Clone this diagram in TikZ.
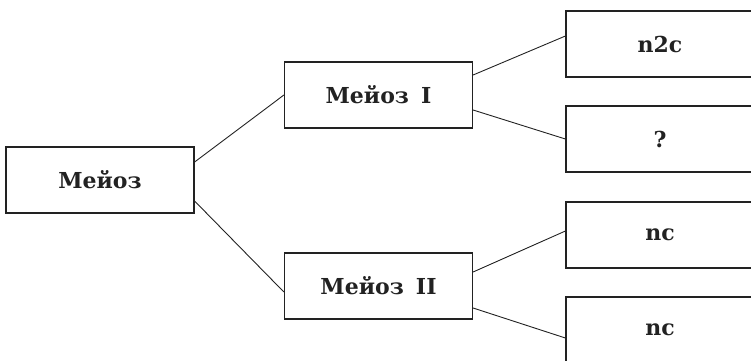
\documentclass[tikz,border=0pt]{standalone}
\usepackage{fontspec}
\setmainfont{DejaVu Serif}
\definecolor{ink}{HTML}{222222}
\begin{document}
\begin{tikzpicture}[x=1pt,y=-1pt,
  box/.style={draw=ink, line width=1.2pt, minimum width=188pt, minimum height=66pt, inner sep=0pt, font=\fontsize{22}{26}\selectfont\bfseries, text=ink},
  link/.style={draw=ink, line width=0.9pt}]
\useasboundingbox (0,0) rectangle (751,360);
\clip (0,0) rectangle (751,360);
\node[box] (m)  at (100,180) {Мейоз};
\node[box] (m1) at (378.5,95) {Мейоз\hspace{0.55em}I};
\node[box] (m2) at (378.5,286) {Мейоз\hspace{0.55em}II};
\node[box] (a) at (660,44) {n2c};
\node[box] (b) at (660,139) {?};
\node[box] (c) at (660,235) {nc};
\node[box] (d) at (660,330) {nc};
\draw[link] ([yshift=18pt]m.east) -- (m1.west);
\draw[link] ([yshift=-21pt]m.east) -- ([yshift=-6pt]m2.west);
\draw[link] ([yshift=20pt]m1.east) -- ([yshift=8pt]a.west);
\draw[link] ([yshift=-15pt]m1.east) -- (b.west);
\draw[link] ([yshift=14pt]m2.east) -- ([yshift=4pt]c.west);
\draw[link] ([yshift=-22pt]m2.east) -- ([yshift=-8pt]d.west);
\end{tikzpicture}
\end{document}
